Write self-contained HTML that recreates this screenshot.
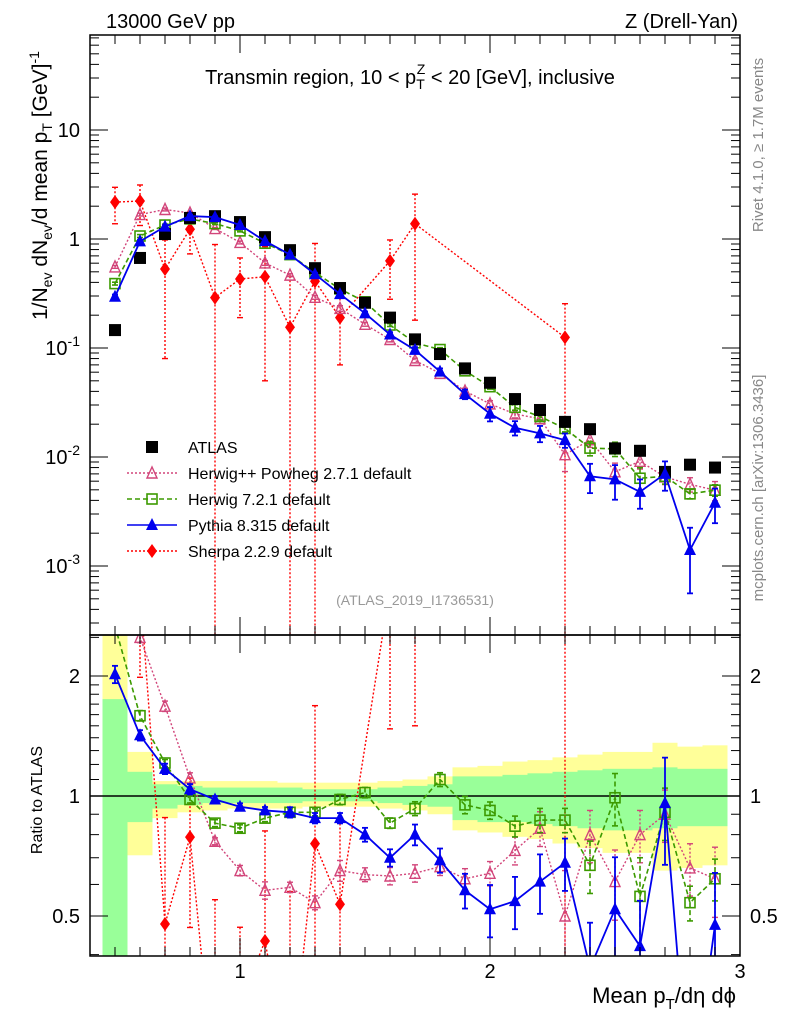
<!DOCTYPE html>
<html><head><meta charset="utf-8"><style>
html,body{margin:0;padding:0;background:#fff;overflow:hidden;width:786px;height:1024px}
svg{display:block;font-family:"Liberation Sans",sans-serif}
</style></head><body>
<svg id="chart" width="786" height="1024" viewBox="0 0 786 1024" xmlns="http://www.w3.org/2000/svg">
<defs>
<clipPath id="cm"><rect x="90" y="35" width="650" height="600"/></clipPath>
<clipPath id="cr"><rect x="90" y="635" width="650" height="321"/></clipPath>
</defs>
<rect x="0" y="0" width="786" height="1024" fill="#fff"/>
<g id="bands" clip-path="url(#cr)"></g>
<g id="marks"></g>
<g id="axes"></g>
<text x="106" y="28" font-size="20">13000 GeV pp</text>
<text x="738" y="28" font-size="20" text-anchor="end">Z (Drell-Yan)</text>
<text x="410" y="84" font-size="20" text-anchor="middle">Transmin region, 10 &lt; p<tspan font-size="14" dy="5">T</tspan><tspan font-size="14" dx="-8" dy="-15">Z</tspan><tspan dy="10"> &lt; 20 [GeV], inclusive</tspan></text>
<text transform="translate(47,320) rotate(-90)" font-size="21" text-anchor="start">1/N<tspan font-size="14" dy="5">ev</tspan><tspan dy="-5"> dN</tspan><tspan font-size="14" dy="5">ev</tspan><tspan dy="-5">/d mean p</tspan><tspan font-size="14" dy="5">T</tspan><tspan dy="-5"> [GeV]</tspan><tspan font-size="14" dy="-8">-1</tspan></text>
<text transform="translate(42,800) rotate(-90)" font-size="16" text-anchor="middle">Ratio to ATLAS</text>
<text x="736" y="1003" font-size="22" text-anchor="end">Mean p<tspan font-size="15" dy="6">T</tspan><tspan dy="-6">/dη dϕ</tspan></text>
<text transform="translate(763,145) rotate(-90)" font-size="15" fill="#888" text-anchor="middle">Rivet 4.1.0, ≥ 1.7M events</text>
<text transform="translate(763,488) rotate(-90)" font-size="15" fill="#888" text-anchor="middle">mcplots.cern.ch [arXiv:1306.3436]</text>
<text x="415" y="605" font-size="14" fill="#999" text-anchor="middle">(ATLAS_2019_I1736531)</text>
<g id="legend"></g>
</svg>
<script>
const xs=[0.5,0.6,0.7,0.8,0.9,1.0,1.1,1.2,1.3,1.4,1.5,1.6,1.7,1.8,1.9,2.0,2.1,2.2,2.3,2.4,2.5,2.6,2.7,2.8,2.9];
const atlas=[0.146,0.67,1.11,1.56,1.62,1.43,1.04,0.79,0.54,0.355,0.26,0.19,0.12,0.088,0.065,0.048,0.034,0.027,0.021,0.018,0.012,0.0114,0.0073,0.0085,0.008];
const herwigppRatio=[3.8,2.5,1.68,1.11,0.77,0.65,0.58,0.59,0.54,0.65,0.635,0.63,0.64,0.665,0.62,0.64,0.73,0.83,0.50,0.80,0.61,0.80,0.90,0.66,0.62];
const herwig7Ratio=[2.67,1.59,1.21,0.98,0.855,0.83,0.88,0.91,0.91,0.98,1.02,0.855,0.93,1.10,0.95,0.92,0.84,0.87,0.87,0.67,0.99,0.56,0.91,0.54,0.62];
const pythiaRatio=[2.02,1.42,1.17,1.04,0.98,0.94,0.92,0.91,0.88,0.88,0.80,0.70,0.80,0.69,0.58,0.52,0.545,0.61,0.68,0.37,0.52,0.42,0.96,0.165,0.475];
const sherpaVals=[2.18,2.23,0.53,1.23,0.29,0.43,0.45,0.155,0.41,0.19,null,0.63,1.38,null,null,null,null,null,0.125,null,null,null,null,null,null];
const sherpaErr=[0.8,0.9,0.45,0.5,0.6,0.24,0.4,0.3,0.5,0.12,null,0.35,1.2,null,null,null,null,null,0.13,null,null,null,null,null,null];
const pythiaErr=[0.05,0.03,0.03,0.03,0.02,0.02,0.02,0.03,0.03,0.03,0.04,0.05,0.06,0.07,0.1,0.15,0.15,0.17,0.15,0.3,0.35,0.3,0.3,0.6,0.35];
const herwig7Err=[0.03,0.03,0.02,0.02,0.02,0.02,0.02,0.02,0.02,0.03,0.03,0.03,0.04,0.04,0.05,0.05,0.06,0.07,0.07,0.15,0.15,0.25,0.15,0.1,0.12];
const herwigppErr=[0.03,0.03,0.03,0.03,0.02,0.03,0.05,0.03,0.04,0.06,0.04,0.05,0.05,0.05,0.06,0.07,0.08,0.1,0.3,0.15,0.2,0.15,0.15,0.15,0.2];
const yellowUp=[3.0,1.29,1.09,1.09,1.09,1.09,1.09,1.08,1.08,1.08,1.08,1.09,1.10,1.12,1.18,1.19,1.22,1.23,1.25,1.27,1.29,1.29,1.36,1.33,1.34];
const yellowDn=[0.3,0.71,0.88,0.91,0.92,0.93,0.93,0.93,0.94,0.94,0.94,0.93,0.92,0.90,0.82,0.81,0.79,0.78,0.76,0.74,0.72,0.72,0.65,0.66,0.67];
const greenUp=[1.75,1.15,1.07,1.06,1.05,1.05,1.05,1.05,1.04,1.04,1.04,1.05,1.06,1.07,1.12,1.12,1.13,1.14,1.15,1.16,1.17,1.17,1.18,1.17,1.17];
const greenDn=[0.3,0.86,0.93,0.95,0.96,0.96,0.96,0.96,0.97,0.97,0.97,0.96,0.95,0.94,0.87,0.86,0.86,0.85,0.84,0.83,0.82,0.82,0.83,0.84,0.84];

const NS="http://www.w3.org/2000/svg";
const RB=956;
const X=v=>90+(v-0.4)*250;
const Ym=v=>239-109*Math.log10(v);
const Yr=r=>796-120*Math.log2(r);
function mk(tag,attrs,parent){const e=document.createElementNS(NS,tag);for(const k in attrs)e.setAttribute(k,attrs[k]);parent.appendChild(e);return e;}
const bands=document.getElementById('bands');
const marks=document.getElementById('marks');
const axes=document.getElementById('axes');

xs.forEach((x,i)=>{
  const x0=X(x-0.05),x1=X(x+0.05);
  const y=mk('rect',{x:x0,y:Yr(yellowUp[i]),width:x1-x0,height:Yr(yellowDn[i])-Yr(yellowUp[i]),fill:'#ffff99'},bands);
  
  
  const g=mk('rect',{x:x0,y:Yr(greenUp[i]),width:x1-x0,height:Yr(greenDn[i])-Yr(greenUp[i]),fill:'#99ff99'},bands);
  
  
});
mk('line',{x1:90,x2:740,y1:Yr(1),y2:Yr(1),stroke:'#000','stroke-width':1.5},bands);

function marker(type,cx,cy,color,parent,s){
  s=s||6;let e;
  if(type==='sq') e=mk('rect',{x:cx-s,y:cy-s,width:2*s,height:2*s,fill:'#000'},parent);
  else if(type==='osq') e=mk('rect',{x:cx-s+1,y:cy-s+1,width:2*s-2,height:2*s-2,fill:'none',stroke:color,'stroke-width':1.6},parent);
  else if(type==='tri') e=mk('polygon',{points:`${cx},${cy-s-1} ${cx-s},${cy+s-1} ${cx+s},${cy+s-1}`,fill:color},parent);
  else if(type==='otri') e=mk('polygon',{points:`${cx},${cy-s} ${cx-s+1},${cy+s-1} ${cx+s-1},${cy+s-1}`,fill:'none',stroke:color,'stroke-width':1.4},parent);
  else if(type==='dia') e=mk('polygon',{points:`${cx},${cy-s-1} ${cx+s-1},${cy} ${cx},${cy+s+1} ${cx-s+1},${cy}`,fill:color},parent);
  return e;
}

function drawSeries(name,vals,errs,absErr,type,color,dash,width,ratioMode){
  const clip=ratioMode?'url(#cr)':'url(#cm)';
  const Y=ratioMode?Yr:Ym;
  const bottom=ratioMode?RB+5:640;
  const g=mk('g',{'clip-path':clip},marks);
  
  
  let pts=[];
  xs.forEach((x,i)=>{const v=vals[i];if(v==null)return;pts.push(X(x)+','+Y(v));});
  if(type!=='sq'){
    const l=mk('polyline',{points:pts.join(' '),fill:'none',stroke:color,'stroke-width':width,'stroke-dasharray':dash},g);
    
    
  }
  xs.forEach((x,i)=>{
    const v=vals[i];if(v==null)return;
    if(errs){
      const e=absErr?errs[i]:errs[i]*v;
      const lo=v-e>0?Math.min(Y(v-e),bottom):bottom, hi=Math.max(Y(v+e),30);
      const eb=mk('line',{x1:X(x),x2:X(x),y1:hi,y2:lo,stroke:color,'stroke-width':width,'stroke-dasharray':dash},g);
      
      
      [hi,lo].forEach(yy=>{mk('line',{x1:X(x)-3,x2:X(x)+3,y1:yy,y2:yy,stroke:color,'stroke-width':width},g);});
    }
    const m=marker(type,X(x),Y(v),color,g);
    
    
  });
}

const herwigpp=atlas.map((a,i)=>a*herwigppRatio[i]);
const herwig7=atlas.map((a,i)=>a*herwig7Ratio[i]);
const pythia=atlas.map((a,i)=>a*pythiaRatio[i]);
const sherpaRatio=sherpaVals.map((v,i)=>v==null?null:v/atlas[i]);
const sherpaErrRatio=sherpaErr.map((e,i)=>e==null?null:e/atlas[i]);

const PINK='#d2457a',GREEN='#3c9a00',BLUE='#0000ee',RED='#ff0000';
drawSeries('sherpa',sherpaVals,sherpaErr,true,'dia',RED,'2,2',1.4,false);
drawSeries('herwigpp',herwigpp,herwigppErr,false,'otri',PINK,'2,2',1.4,false);
drawSeries('herwig7',herwig7,herwig7Err,false,'osq',GREEN,'5,3',1.6,false);
drawSeries('atlas',atlas,null,false,'sq','#000','',1,false);
drawSeries('pythia',pythia,pythiaErr,false,'tri',BLUE,'',1.8,false);
drawSeries('sherpa',sherpaRatio,sherpaErrRatio,true,'dia',RED,'2,2',1.4,true);
drawSeries('herwigpp',herwigppRatio,herwigppErr,false,'otri',PINK,'2,2',1.4,true);
drawSeries('herwig7',herwig7Ratio,herwig7Err,false,'osq',GREEN,'5,3',1.6,true);
drawSeries('pythia',pythiaRatio,pythiaErr,false,'tri',BLUE,'',1.8,true);

[[35,600],[635,RB-635]].forEach(([y,h],k)=>{
  const r=mk('rect',{x:90,y:y,width:650,height:h,fill:'none',stroke:'#000','stroke-width':1.5},axes);
  
  
});
for(let t=4;t<=30;t++){
  const v=t/10,x=X(v),maj=(t%10===0),L=maj?18:9;
  [[35,1],[635,-1],[635,1],[RB,-1]].forEach(([yy,d])=>{mk('line',{x1:x,x2:x,y1:yy,y2:yy+d*L,stroke:'#000','stroke-width':1},axes);});
  if(maj){const tl=mk('text',{x:x,y:978,'font-size':20,'text-anchor':'middle'},axes);tl.textContent=String(v);
    
    }
}
const decLabels=['10⁻³','10⁻²','10⁻¹','1','10'];
for(let k=-4;k<=1;k++){
  for(let m=1;m<=9;m++){
    const v=m*Math.pow(10,k),y=Ym(v);if(y<35||y>635)continue;
    const L=m===1?18:9;
    mk('line',{x1:90,x2:90+L,y1:y,y2:y,stroke:'#000'},axes);
    mk('line',{x1:740,x2:740-L,y1:y,y2:y,stroke:'#000'},axes);
    if(m===1){
      const tl=mk('text',{x:80,y:y+7,'font-size':20,'text-anchor':'end'},axes);
      if(k>=0) tl.textContent=decLabels[k+3];
      else{tl.textContent='10';const s=mk('tspan',{'font-size':14,dy:-9},tl);s.textContent=String(k);}
      
      
    }
  }
}
const rTicks=[0.4,0.5,0.6,0.7,0.8,0.9,1,1.1,1.2,1.3,1.4,1.5,1.6,1.7,1.8,1.9,2,2.5];
rTicks.forEach(r=>{
  const y=Yr(r);if(y>RB||y<635)return;
  const maj=(r===0.5||r===1||r===2),L=maj?18:9;
  mk('line',{x1:90,x2:90+L,y1:y,y2:y,stroke:'#000'},axes);
  mk('line',{x1:740,x2:740-L,y1:y,y2:y,stroke:'#000'},axes);
  if(maj){
    const a=mk('text',{x:80,y:y+7,'font-size':20,'text-anchor':'end'},axes);a.textContent=String(r);
    
    
    const b=mk('text',{x:750,y:y+7,'font-size':20},axes);b.textContent=String(r);
    
    
  }
});
const leg=document.getElementById('legend');
const entries=[['ATLAS','sq','#000',''],['Herwig++ Powheg 2.7.1 default','otri',PINK,'2,2'],['Herwig 7.2.1 default','osq',GREEN,'5,3'],['Pythia 8.315 default','tri',BLUE,''],['Sherpa 2.2.9 default','dia',RED,'2,2']];
entries.forEach((e,i)=>{
  const y=447+i*26;
  const g=mk('g',{},leg);
  
  
  if(e[1]!=='sq') mk('line',{x1:127,x2:177,y1:y,y2:y,stroke:e[2],'stroke-width':1.6,'stroke-dasharray':e[3]},g);
  marker(e[1],152,y,e[2],g);
  const t=mk('text',{x:188,y:y+6,'font-size':16},g);t.textContent=e[0];
});
</script>
</body></html>
